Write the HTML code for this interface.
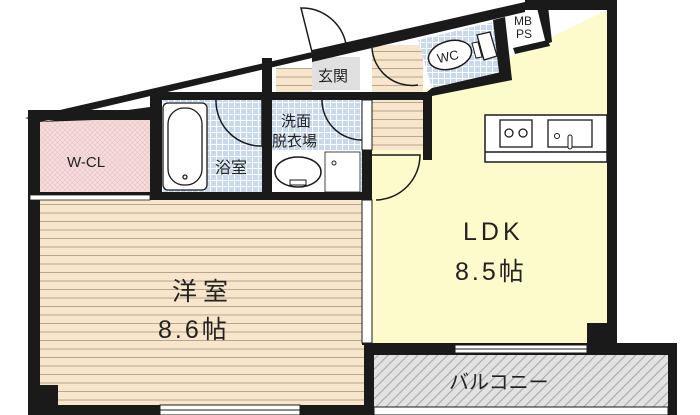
<!DOCTYPE html>
<html><head><meta charset="utf-8"><style>
html,body{margin:0;padding:0;background:#fff;}
svg{display:block;}
text{font-family:"Liberation Sans","Noto Sans CJK JP",sans-serif;fill:#222;}
</style></head><body>
<svg width="700" height="415" viewBox="0 0 700 415" xmlns="http://www.w3.org/2000/svg">
<defs>
<pattern id="wood" width="8" height="8.5" patternUnits="userSpaceOnUse">
<rect width="8" height="8.5" fill="#f7e6cc"/><line x1="0" y1="0.5" x2="8" y2="0.5" stroke="#b8a78c" stroke-width="1"/></pattern>
<pattern id="tile" width="6" height="6" patternUnits="userSpaceOnUse">
<rect width="6" height="6" fill="#c8d8ef"/><path d="M0 0.5H6M0.5 0V6" stroke="#fff" stroke-width="1"/></pattern>
<pattern id="pink" width="5" height="5" patternUnits="userSpaceOnUse">
<rect width="5" height="5" fill="#f6dcdc"/><path d="M0 0L5 5M5 0L0 5" stroke="#e8c2c2" stroke-width="0.6"/></pattern>
<pattern id="hatch" width="7" height="7" patternUnits="userSpaceOnUse" patternTransform="rotate(45)">
<rect width="7" height="7" fill="#e2e2e2"/><line x1="0" y1="0" x2="0" y2="7" stroke="#a8a8a8" stroke-width="2.2"/></pattern>
</defs>

<!-- floors -->
<rect x="40" y="200" width="326" height="205" fill="url(#wood)"/>
<polygon points="372,95 432,88 432,160 432,95 607,10 607,345 372,345" fill="#fdfbcb"/>
<rect x="372" y="45" width="51" height="105" fill="url(#wood)"/>
<rect x="40" y="120" width="110" height="72" fill="url(#pink)"/>
<rect x="162" y="100" width="100" height="92" fill="url(#tile)"/>
<rect x="272" y="100" width="90" height="92" fill="url(#tile)"/>
<rect x="272" y="150" width="88" height="42" fill="#fff"/>
<rect x="312" y="57" width="48" height="33" fill="#e0e0e0"/>
<rect x="276" y="68" width="36" height="24" fill="url(#wood)"/>
<polygon points="418,40 493,22 510,73 432,88" fill="url(#tile)"/>
<polygon points="507,16 538,10 547,42 513,50" fill="#fff"/>

<!-- slope line -->
<polygon points="25,118 312,52 312,58 40,122" fill="#1a1a1a"/>
<polygon points="40,122 150,107 150,118 40,122" fill="#1a1a1a"/>
<polygon points="150,100 312,64 312,68 150,104" fill="#1a1a1a" opacity="0"/>
<!-- walls -->
<g fill="#1a1a1a">
<rect x="28" y="118" width="12" height="297"/>
<rect x="28" y="110" width="122" height="10"/>
<rect x="150" y="92" width="282" height="8"/>
<rect x="150" y="92" width="12" height="108"/>
<rect x="262" y="58" width="10" height="142"/>
<rect x="28" y="192" width="344" height="8"/>
<rect x="362" y="95" width="10" height="250"/>
<polygon points="312,50 525,2 525,12 312,62"/>
<rect x="525" y="0" width="92" height="10"/>
<rect x="607" y="0" width="10" height="345"/>
<rect x="587" y="323" width="20" height="27"/>
<polygon points="423,95 432,88 432,160 423,160"/>
<polygon points="432,88 510,70 512,80 432,96"/>
<polygon points="493,20 505,17 512,80 500,82"/>
<polygon points="537,8 548,6 552,42 546,44"/>
<polygon points="513,48 548,40 550,46 515,54"/>
<rect x="28" y="405" width="342" height="10"/>
<rect x="28" y="385" width="30" height="22"/>
<rect x="364" y="343" width="313" height="12"/>
<rect x="364" y="343" width="10" height="72"/>
<rect x="668" y="343" width="9" height="72"/>
</g>
<!-- windows -->
<rect x="160" y="405" width="140" height="10" fill="#fff" stroke="#1a1a1a" stroke-width="1"/>
<line x1="160" y1="410" x2="300" y2="410" stroke="#1a1a1a"/>
<rect x="455" y="345" width="132" height="8" fill="#fff" stroke="#1a1a1a" stroke-width="1"/>
<line x1="455" y1="349" x2="587" y2="349" stroke="#1a1a1a"/>
<rect x="30" y="195" width="120" height="5" fill="#fff" stroke="#1a1a1a" stroke-width="0.8"/>
<rect x="362" y="200" width="10" height="143" fill="#fff" stroke="#1a1a1a" stroke-width="1"/>
<rect x="362" y="100" width="10" height="50" fill="#fff" stroke="#1a1a1a" stroke-width="1"/>
<!-- balcony -->
<rect x="374" y="355" width="294" height="52" fill="url(#hatch)"/>
<rect x="374" y="407" width="294" height="8" fill="#fff" stroke="#1a1a1a" stroke-width="1"/>

<!-- kitchen -->
<rect x="485" y="115" width="122" height="47" fill="#fff" stroke="#1a1a1a" stroke-width="1.5"/>
<line x1="485" y1="152" x2="607" y2="152" stroke="#1a1a1a" stroke-width="1.5"/>
<rect x="500" y="120" width="32" height="27" fill="#fff" stroke="#1a1a1a" stroke-width="1.3"/>
<circle cx="509" cy="133" r="4" fill="none" stroke="#1a1a1a" stroke-width="1.3"/>
<circle cx="523" cy="133" r="4" fill="none" stroke="#1a1a1a" stroke-width="1.3"/>
<rect x="548" y="120" width="44" height="27" fill="#fff" stroke="#1a1a1a" stroke-width="1.3"/>
<circle cx="557" cy="136" r="2.5" fill="none" stroke="#1a1a1a"/>
<rect x="568" y="135" width="4" height="14" rx="2" fill="#fff" stroke="#1a1a1a"/>

<!-- bath tub -->
<rect x="163" y="103" width="44" height="87" rx="5" fill="#fff" stroke="#1a1a1a" stroke-width="1.3"/>
<rect x="168" y="108" width="34" height="77" rx="16" fill="#fff" stroke="#1a1a1a" stroke-width="1.3"/>
<circle cx="185" cy="177" r="2" fill="none" stroke="#1a1a1a" stroke-width="1.3"/>
<!-- washbasin -->
<rect x="273" y="150" width="50" height="42" fill="#fff"/>
<ellipse cx="298" cy="172" rx="23" ry="15" fill="#fff" stroke="#1a1a1a" stroke-width="1.5"/>
<rect x="290" y="180" width="16" height="5" fill="#fff" stroke="#1a1a1a"/>
<rect x="325" y="152" width="35" height="40" fill="#fff" stroke="#1a1a1a" stroke-width="0.8"/>
<circle cx="334" cy="163" r="2" fill="none" stroke="#1a1a1a"/>
<!-- toilet -->
<ellipse cx="450" cy="55" rx="22" ry="14" transform="rotate(-15 450 55)" fill="#fff" stroke="#1a1a1a" stroke-width="1.5"/>
<polygon points="477,35 490,32 497,56 484,60" fill="#fff" stroke="#1a1a1a" stroke-width="1.3"/>
<polygon points="472,43 478,42 482,57 476,58" fill="#fff" stroke="#1a1a1a" stroke-width="1"/>
<!-- doors -->
<g fill="none" stroke="#1a1a1a" stroke-width="1.5">
<path d="M312 52 L301 8 A45 45 0 0 1 346 44"/>
<path d="M216 100 A45 45 0 0 0 262 146 L262 100"/>
<path d="M322 100 A40 40 0 0 0 362 140"/>
<path d="M372 48 A40 40 0 0 0 418 85"/>
<path d="M372 155 L420 155 A45 45 0 0 1 376 200"/>
</g>

<!-- labels -->
<text x="67" y="167" font-size="15">W-CL</text>
<text x="215" y="173" font-size="16">浴室</text>
<text x="281" y="126" font-size="15">洗面</text>
<text x="272" y="146" font-size="15">脱衣場</text>
<text x="318" y="81" font-size="15">玄関</text>
<text x="437" y="61" font-size="13" transform="rotate(-12 448 56)">WC</text>
<text x="514" y="25" font-size="12">MB</text>
<text x="516" y="38" font-size="12">PS</text>
<text x="463" y="240" font-size="25" letter-spacing="4">LDK</text>
<text x="455" y="280" font-size="25" letter-spacing="3">8.5帖</text>
<text x="172" y="300" font-size="25" letter-spacing="6">洋室</text>
<text x="158" y="338" font-size="25" letter-spacing="3">8.6帖</text>
<text x="449" y="389" font-size="20">バルコニー</text>
</svg>
</body></html>
